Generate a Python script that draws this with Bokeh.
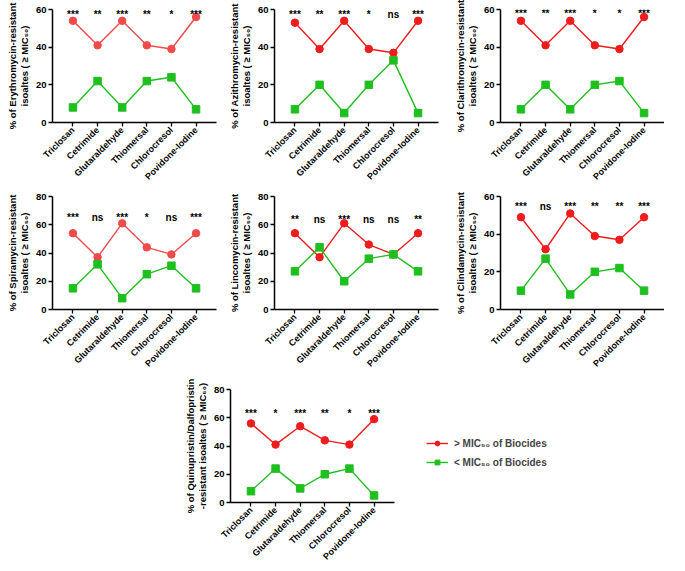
import math
from bokeh.plotting import figure
from bokeh.models import FixedTicker, Legend, LegendItem, ColumnDataSource, Range1d, Spacer
from bokeh.layouts import row, column
from bokeh.embed import file_html
from bokeh.resources import INLINE
from bokeh.core.properties import value

biocides = ["Triclosan", "Cetrimide", "Glutaraldehyde", "Thiomersal", "Chlorocresol", "Povidone-Iodine"]

# > MIC50 (red) and < MIC50 (green) series per antibiotic
ery_hi = [54, 41, 54, 41, 39, 56]
ery_lo = [8, 22, 8, 22, 24, 7]
ery_sig = ["***", "**", "***", "**", "*", "***"]

azi_hi = [53, 39, 54, 39, 37, 54]
azi_lo = [7, 20, 5, 20, 33, 5]
azi_sig = ["***", "**", "***", "*", "ns", "***"]

cla_hi = [54, 41, 54, 41, 39, 56]
cla_lo = [7, 20, 7, 20, 22, 5]
cla_sig = ["***", "**", "***", "*", "*", "***"]

spi_hi = [54, 37, 61, 44, 39, 54]
spi_lo = [15, 32, 8, 25, 31, 15]
spi_sig = ["***", "ns", "***", "*", "ns", "***"]

lin_hi = [54, 37, 61, 46, 39, 54]
lin_lo = [27, 44, 20, 36, 39, 27]
lin_sig = ["**", "ns", "***", "ns", "ns", "**"]

cli_hi = [49, 32, 51, 39, 37, 49]
cli_lo = [10, 27, 8, 20, 22, 10]
cli_sig = ["***", "ns", "***", "**", "**", "***"]

qd_hi = [56, 41, 54, 44, 41, 59]
qd_lo = [8, 24, 10, 20, 24, 5]
qd_sig = ["***", "*", "***", "**", "*", "***"]

legend_labels = ["> MIC₅₀ of Biocides", "< MIC₅₀ of Biocides"]

FONT = "Liberation Sans"
GREEN = "#1fbf1f"
LIGHT_RED = "#f04a4a"
RED = "#ee1c1c"
FW, FH = 164, 113


def panel(label, hi, lo, sig, ymax, sig_y, red, left, top, right):
    x = list(range(len(biocides)))
    p = figure(frame_width=FW, frame_height=FH, output_backend="svg", toolbar_location=None,
               x_range=Range1d(-0.83, len(biocides) - 1 + 0.83),
               y_range=Range1d(0, ymax),
               min_border_left=left, min_border_top=top,
               min_border_bottom=10, min_border_right=right)
    p.outline_line_color = None
    p.grid.visible = False
    p.background_fill_color = None
    p.border_fill_color = None

    src = ColumnDataSource(dict(x=x, hi=hi, lo=lo, sig=sig, sy=[sig_y] * len(x)))
    p.line("x", "hi", source=src, color=red, line_width=1.4)
    p.scatter("x", "hi", source=src, marker="circle", size=7.5, color=red)
    p.line("x", "lo", source=src, color=GREEN, line_width=1.4)
    p.scatter("x", "lo", source=src, marker="square", size=7.5, color=GREEN)
    p.text("x", "sy", text="sig", source=src, text_align="center", text_baseline="middle",
           text_font=value(FONT), text_font_size="10px", text_font_style="bold",
           text_color="black")

    p.xaxis.ticker = FixedTicker(ticks=x)
    p.xaxis.major_label_overrides = {i: b for i, b in enumerate(biocides)}
    p.xaxis.major_label_orientation = math.pi / 4
    p.yaxis.ticker = FixedTicker(ticks=list(range(0, ymax + 1, 20)))
    for ax in (p.xaxis, p.yaxis):
        ax.axis_line_width = 1.5
        ax.axis_line_color = "black"
        ax.major_tick_line_width = 1.3
        ax.major_tick_line_color = "black"
        ax.major_tick_out = 4
        ax.major_tick_in = 0
        ax.minor_tick_line_color = None
        ax.major_label_text_font = FONT
        ax.major_label_text_font_style = "bold"
        ax.major_label_text_font_size = "9px"
        ax.major_label_text_color = "black"
        ax.major_label_standoff = 2
    p.yaxis.major_label_text_font_size = "9.5px"
    p.yaxis.axis_label = label
    p.yaxis.axis_label_text_font = FONT
    p.yaxis.axis_label_text_font_style = "bold"
    p.yaxis.axis_label_text_font_size = "9.5px"
    p.yaxis.axis_label_text_line_height = 1.1
    p.yaxis.axis_label_standoff = 3
    p.yaxis.axis_label_text_color = "black"
    return p


def legend_panel(top):
    p = figure(frame_width=200, frame_height=FH, output_backend="svg", toolbar_location=None,
               x_axis_type=None, y_axis_type=None, x_range=Range1d(0, 1), y_range=Range1d(0, 1),
               min_border_left=0, min_border_right=0, min_border_top=top, min_border_bottom=10)
    p.outline_line_color = None
    p.grid.visible = False
    p.background_fill_color = None
    p.border_fill_color = None
    # off-screen dummy points; only their legend glyphs are visible
    r1 = p.line(x=[-5, -4], y=[-5, -5], color=RED, line_width=1.4)
    r2 = p.scatter(x=[-5], y=[-5], marker="circle", size=7.5, color=RED)
    g1 = p.line(x=[-5, -4], y=[-5, -5], color=GREEN, line_width=1.4)
    g2 = p.scatter(x=[-5], y=[-5], marker="square", size=7.5, color=GREEN)
    leg = Legend(items=[
        LegendItem(label=legend_labels[0], renderers=[r1, r2], index=0),
        LegendItem(label=legend_labels[1], renderers=[g1, g2], index=0),
    ], location=(30, 34))
    leg.border_line_color = None
    leg.background_fill_color = None
    leg.background_fill_alpha = 0
    leg.label_text_font = FONT
    leg.label_text_font_style = "bold"
    leg.label_text_font_size = "10px"
    leg.glyph_width = 22
    leg.glyph_height = 12
    leg.label_height = 12
    leg.spacing = 7
    leg.label_standoff = 6
    leg.margin = 0
    leg.padding = 0
    p.add_layout(leg)
    return p


p1 = panel("% of Erythromycin-resistant\nisoaltes ( ≥ MIC₅₀)", ery_hi, ery_lo, ery_sig, 60, 57.5,
           LIGHT_RED, 52, 7, 6)
p2 = panel("% of Azithromycin-resistant\nisoaltes ( ≥ MIC₅₀)", azi_hi, azi_lo, azi_sig, 60, 57.5,
           RED, 52, 7, 6)
p3 = panel("% of Clarithromycin-resistant\nisoaltes ( ≥ MIC₅₀)", cla_hi, cla_lo, cla_sig, 60, 58,
           RED, 56, 9, 0)
p4 = panel("% of Spiramycin-resistant\nisoaltes ( ≥ MIC₅₀)", spi_hi, spi_lo, spi_sig, 80, 65,
           LIGHT_RED, 52, 8, 6)
p5 = panel("% of Lincomycin-resistant\nisoaltes ( ≥ MIC₅₀)", lin_hi, lin_lo, lin_sig, 80, 64,
           RED, 52, 8, 6)
p6 = panel("% of Clindamycin-resistant\nisoaltes ( ≥ MIC₅₀)", cli_hi, cli_lo, cli_sig, 60, 54.5,
           RED, 56, 8, 0)
p7 = panel("% of Quinupristin/Dalfopristin\n-resistant isoaltes ( ≥ MIC₅₀)", qd_hi, qd_lo, qd_sig, 80, 63,
           RED, 52, 14, 2)
pl = legend_panel(14)

layout = column(
    row(p1, p2, p3, spacing=0),
    row(p4, p5, p6, spacing=0),
    row(Spacer(width=178, height=10), p7, pl, spacing=0),
    spacing=0,
)

open("out.html", "w").write(file_html(layout, INLINE))
